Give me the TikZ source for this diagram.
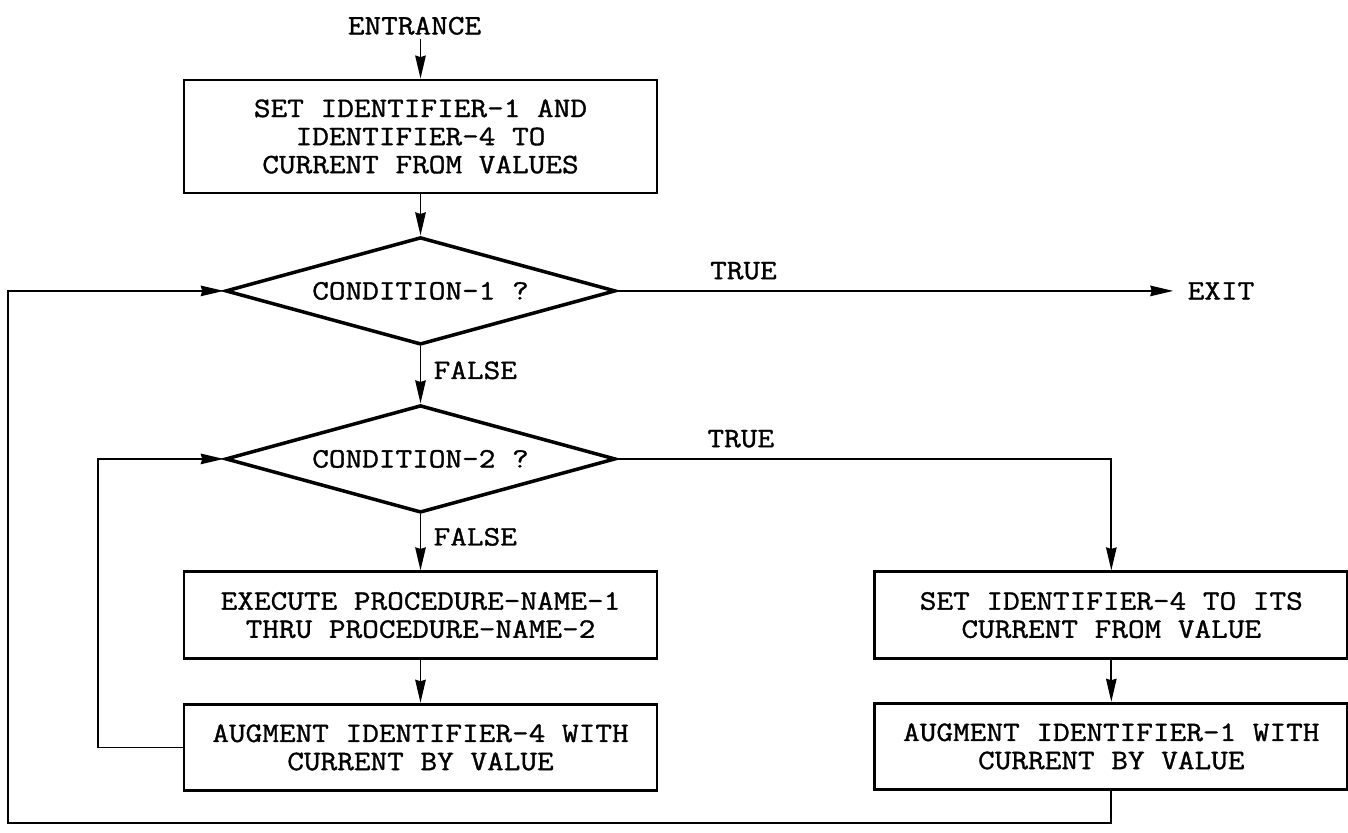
\documentclass[tikz,border=0pt]{standalone}
\usepackage{fontspec}
\newfontfamily\flowtt[FakeStretch=1.15, FakeBold=1.2]{Latin Modern Mono}
\newcommand{\flowfont}{\flowtt\fontsize{16}{16}\selectfont}
\usepackage{tikz}
\usetikzlibrary{shapes.geometric, arrows.meta, positioning}
\tikzset{
  % Box styles
  stepbox/.style={rectangle, draw, line width=1.6pt, minimum width=9.46cm, minimum height=1.73cm, font=\flowfont, align=center},
  testbox/.style={diamond, draw, line width=2pt, aspect=3.6, inner sep=0pt, minimum width=7.8cm, minimum height=2.15cm, font=\flowfont, align=center},
  % Label styles
  flowlabel/.style={font=\flowfont, inner sep=2pt},
  % Arrow styles
  arrow/.style={->, >={Stealth[length=4.6mm, width=2.1mm, inset=0.3mm]}, line width=1pt},
  flowline/.style={line width=1pt}
}

\begin{document}
\begin{tikzpicture}[node distance=0.8cm]
  \useasboundingbox (0,0) rectangle (26.96,-16.66);

  % Main column
  \node[stepbox, minimum height=2.26cm] (b1) at (8.41,-2.73) {SET IDENTIFIER-1 AND\\IDENTIFIER-4 TO\\CURRENT FROM VALUES};

  \node[flowlabel, above=0.8cm of b1, xshift=-0.12cm] (start) {ENTRANCE};

  \node[testbox, below=0.82cm of b1] (c1) {CONDITION-1 ?};

  \node[testbox, below=1.14cm of c1] (c2) {CONDITION-2 ?};

  \node[stepbox, below=1.12cm of c2] (b2) {EXECUTE PROCEDURE-NAME-1\\THRU PROCEDURE-NAME-2};

  \node[stepbox, below=0.86cm of b2] (b3) {AUGMENT IDENTIFIER-4 WITH\\CURRENT BY VALUE};

  % Right column
  \node[stepbox, right=4.3cm of b2] (b4) {SET IDENTIFIER-4 TO ITS\\CURRENT FROM VALUE};

  \node[stepbox, below=0.84cm of b4] (b5) {AUGMENT IDENTIFIER-1 WITH\\CURRENT BY VALUE};

  \node[flowlabel, inner xsep=8pt, right=11.12cm of c1] (exit) {EXIT};

  % Loop corners
  \coordinate (lowcorner) at (0.16,-16.46);
  \coordinate (loopx) at (1.96,0);

  % Connectors
  \draw[arrow] (start.south -| b1.north) -- (b1.north);
  \draw[arrow] (b1.south) -- (c1.north);
  \draw[arrow] (c1.south) -- node[pos=0.42, right=5pt, flowlabel] {FALSE} (c2.north);
  \draw[arrow] (c2.south) -- node[pos=0.4, right=5pt, flowlabel] {FALSE} (b2.north);
  \draw[arrow] (b2.south) -- (b3.north);
  \draw[arrow] (c1.east) -- node[pos=0.227, above=4pt, flowlabel] {TRUE} (exit.west);
  \draw[arrow] (c2.east) -| node[pos=0.125, above=4pt, flowlabel] {TRUE} (b4.north);
  \draw[arrow] (b4.south) -- (b5.north);
  \draw[arrow] (b3.west) -- (b3.west -| loopx) |- (c2.west);
  \draw[arrow] (b5.south) |- (lowcorner) |- (c1.west);
\end{tikzpicture}
\end{document}
